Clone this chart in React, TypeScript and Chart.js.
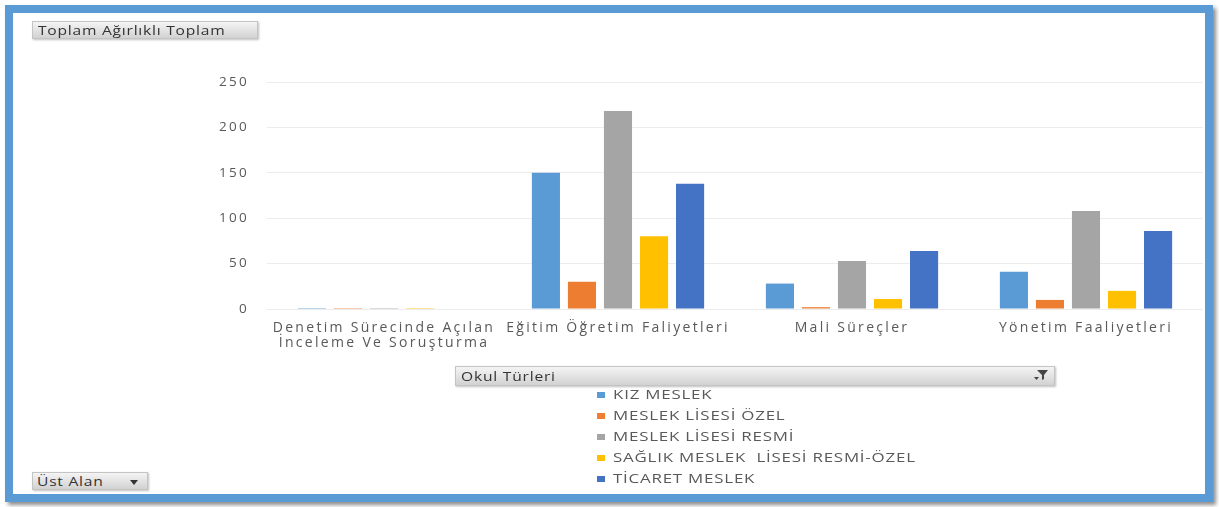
import React, { useEffect, useRef } from "react";
import { Chart, registerables } from "chart.js";

Chart.register(...registerables);

const categories: (string | string[])[] = [
  ["Denetim Sürecinde Açılan", "İnceleme Ve Soruşturma"],
  "Eğitim Öğretim Faliyetleri",
  "Mali Süreçler",
  "Yönetim Faaliyetleri",
];
const seriesNames = [
  "KIZ MESLEK",
  "MESLEK LİSESİ ÖZEL",
  "MESLEK LİSESİ RESMİ",
  "SAĞLIK MESLEK  LİSESİ RESMİ-ÖZEL",
  "TİCARET MESLEK",
];
const seriesColors = ["#5B9BD5", "#ED7D31", "#A5A5A5", "#FFC000", "#4472C4"];
const kizMeslek = [1, 150, 28, 41];
const meslekLisesiOzel = [1, 30, 2, 10];
const meslekLisesiResmi = [1, 218, 53, 108];
const saglikMeslek = [1, 80, 11, 20];
const ticaretMeslek = [0, 138, 64, 86];
const seriesValues = [kizMeslek, meslekLisesiOzel, meslekLisesiResmi, saglikMeslek, ticaretMeslek];
const yTicks = [0, 50, 100, 150, 200, 250];

const FONT = "'Open Sans', 'DejaVu Sans', sans-serif";
const TEXT = "#595959";

const spacingPlugin = {
  id: "letterSpacing",
  beforeLayout(chart: any) {
    chart.ctx.letterSpacing = "2.3px";
  },
  beforeDraw(chart: any) {
    chart.ctx.letterSpacing = "2.3px";
  },
};

const buttonStyle: React.CSSProperties = {
  position: "absolute",
  background: "linear-gradient(#f4f4f4, #d2d2d2)",
  border: "1px solid #c4c4c4",
  boxShadow: "1px 1px 2px rgba(0,0,0,0.25)",
  fontFamily: FONT,
  fontSize: 12.5,
  color: "#333",
  letterSpacing: "0.6px",
  lineHeight: "17px",
  boxSizing: "border-box",
  whiteSpace: "nowrap",
};

const stretch = (k: number): React.CSSProperties => ({
  display: "inline-block",
  transform: `scaleX(${k})`,
  transformOrigin: "left center",
});

export default function App() {
  const canvasRef = useRef<HTMLCanvasElement | null>(null);

  useEffect(() => {
    if (!canvasRef.current) return;
    const chart = new Chart(canvasRef.current, {
      type: "bar",
      data: {
        labels: categories,
        datasets: seriesNames.map((name, i) => ({
          label: name,
          data: seriesValues[i],
          backgroundColor: seriesColors[i],
          borderWidth: 0,
          categoryPercentage: 0.77,
          barPercentage: 0.78,
        })),
      },
      options: {
        animation: false,
        responsive: true,
        maintainAspectRatio: false,
        layout: { padding: { left: 207, right: 16, top: 82, bottom: 11 } },
        plugins: {
          legend: { display: false },
          tooltip: { enabled: false },
          title: { display: false },
        },
        scales: {
          x: {
            grid: { display: false },
            border: { display: false },
            ticks: {
              color: TEXT,
              font: { family: FONT, size: 14, lineHeight: 1.05 },
              padding: 4,
              maxRotation: 0,
              autoSkip: false,
            },
            afterFit: (s: any) => {
              s.height = 50;
            },
          },
          y: {
            min: 0,
            max: 250,
            grid: { color: "#ececec", drawTicks: false, lineWidth: 1 },
            border: { display: false },
            ticks: {
              color: TEXT,
              font: { family: FONT, size: 13.5 },
              padding: 18,
            },
            afterBuildTicks: (s: any) => {
              s.ticks = yTicks.map((v) => ({ value: v }));
            },
            afterFit: (s: any) => {
              s.width = 60;
            },
          },
        },
      },
      plugins: [spacingPlugin],
    });
    return () => chart.destroy();
  }, []);

  return (
    <div
      style={{
        position: "absolute",
        left: 0,
        top: 0,
        width: 1219,
        height: 507,
        overflow: "hidden",
        background: "#ffffff",
      }}
    >
      <div
        style={{
          position: "absolute",
          left: 5,
          top: 5,
          width: 1208,
          height: 497,
          boxSizing: "border-box",
          border: "8px solid #5B9BD5",
          boxShadow: "3px 3px 4px rgba(0,0,0,0.45)",
          background: "#fff",
        }}
      />
      <div style={{ position: "absolute", left: 0, top: 0, width: 1219, height: 370 }}>
        <canvas ref={canvasRef} />
      </div>
      <div style={{ ...buttonStyle, left: 32, top: 21, width: 226, height: 18, paddingLeft: 5 }}>
        <span style={stretch(1.25)}>Toplam Ağırlıklı Toplam</span>
      </div>
      <div style={{ ...buttonStyle, left: 32, top: 472, width: 116, height: 18, paddingLeft: 4 }}>
        <span style={stretch(1.25)}>Üst Alan</span>
        <svg
          width="8"
          height="5"
          style={{ position: "absolute", right: 9, top: 7 }}
          viewBox="0 0 8 5"
        >
          <polygon points="0,0 8,0 4,5" fill="#333" />
        </svg>
      </div>
      <div
        style={{
          ...buttonStyle,
          left: 455,
          top: 366,
          width: 600,
          height: 20,
          paddingLeft: 5,
          lineHeight: "19px",
          fontSize: 12,
        }}
      >
        <span style={stretch(1.3)}>Okul Türleri</span>
        <svg
          width="14"
          height="12"
          style={{ position: "absolute", right: 6, top: 3 }}
          viewBox="0 0 14 12"
        >
          <polygon points="3,0 14,0 10,5 10,9 8,10 8,5" fill="#444" />
          <polygon points="0,7 5,7 2.5,10" fill="#444" />
        </svg>
      </div>
      <div style={{ position: "absolute", left: 597, top: 384 }}>
        {seriesNames.map((name, i) => (
          <div
            key={name}
            style={{
              height: 21,
              lineHeight: "21px",
              fontFamily: FONT,
              fontSize: 13,
              letterSpacing: "0.6px",
              color: TEXT,
              whiteSpace: "pre",
              display: "flex",
              alignItems: "center",
            }}
          >
            <span
              style={{
                display: "inline-block",
                width: 8,
                height: 6,
                background: seriesColors[i],
                marginRight: 8,
                flex: "none",
              }}
            />
            <span style={stretch(1.3)}>{name}</span>
          </div>
        ))}
      </div>
    </div>
  );
}
